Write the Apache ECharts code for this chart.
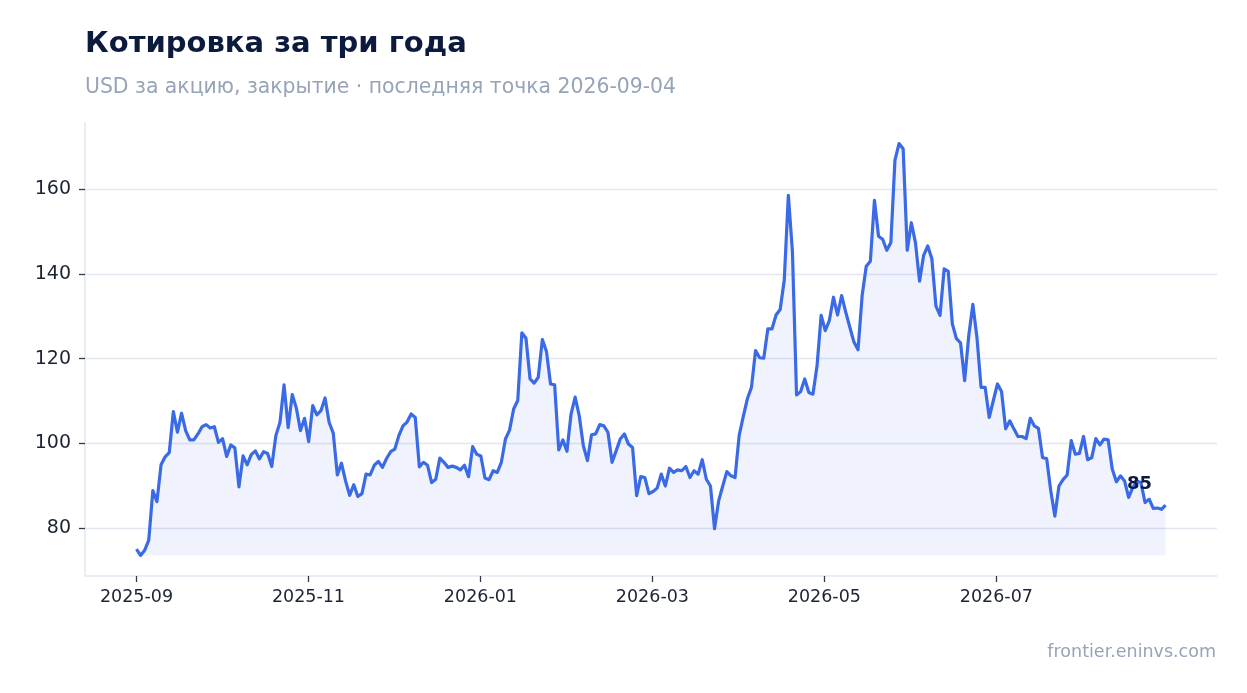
<!DOCTYPE html>
<html><head><meta charset="utf-8">
<script src="https://cdn.jsdelivr.net/npm/echarts@6/dist/echarts.min.js"></script>
<style>html,body{margin:0;padding:0;background:#fff}#c{width:1247px;height:693px}</style>
</head><body><div id="c"></div>
<script>
const TITLE = 'Котировка за три года';
const SUBTITLE = 'USD за акцию, закрытие · последняя точка 2026-09-04';
const SOURCE = 'frontier.eninvs.com';
const START_DATE = '2025-09-04';
const END_DATE = '2026-09-04';
const tickDates = ['2025-09-04', '2025-11-04', '2026-01-04', '2026-03-06', '2026-05-06', '2026-07-06'];
const yTicks = [80, 100, 120, 140, 160];

const closesPart1 = [75.0, 73.5, 74.7, 77.1, 88.8, 86.2, 94.9, 96.8, 97.8, 107.5, 102.6, 107.1, 103.0, 100.8, 100.8, 102.2, 103.9, 104.4, 103.6, 103.9, 100.2, 101.1, 96.9, 99.6, 98.9, 89.7, 97.0, 94.9, 97.3, 98.2, 96.3, 98.0, 97.6];
const closesPart2 = [94.5, 101.8, 104.9, 113.8, 103.7, 111.5, 108.3, 103.0, 105.9, 100.4, 108.9, 106.7, 107.7, 110.7, 104.9, 102.4, 92.5, 95.3, 91.1, 87.7, 90.2, 87.4, 88.1, 92.7, 92.5, 94.8, 95.7, 94.3, 96.4, 98.0, 98.6, 101.8, 104.1, 105.0, 106.9, 106.1];
const closesPart3 = [94.4, 95.5, 94.8, 90.7, 91.5, 96.5, 95.5, 94.3, 94.6, 94.3, 93.7, 94.8, 92.1, 99.2, 97.4, 97.0, 91.8, 91.4, 93.5, 93.1, 95.5, 101.0, 103.1, 108.1, 110.1, 126.1, 124.8, 115.2, 114.2, 115.6, 124.5, 121.7, 114.0, 113.8];
const closesPart4 = [98.4, 100.8, 98.1, 106.9, 110.9, 106.5, 99.4, 95.9, 102.0, 102.2, 104.4, 104.1, 102.6, 95.5, 98.2, 101.0, 102.2, 99.8, 99.0, 87.6, 92.1, 91.9, 88.1, 88.6, 89.4, 92.7, 89.9, 94.1, 93.1, 93.7, 93.5, 94.5, 91.9];
const closesPart5 = [93.5, 92.7, 96.1, 91.5, 89.9, 79.8, 86.4, 89.9, 93.3, 92.3, 91.9, 101.8, 106.3, 110.5, 113.2, 121.9, 120.2, 120.1, 127.0, 127.0, 130.3, 131.6, 138.5, 158.6, 145.2, 111.4, 112.2];
const closesPart6 = [115.2, 112.0, 111.6, 118.3, 130.2, 126.6, 129.0, 134.5, 130.3, 134.9, 131.0, 127.4, 123.9, 122.1, 134.9, 141.8, 143.0, 157.4, 148.9, 148.2, 145.6, 147.4, 166.9, 170.8, 169.6, 145.6, 152.1];
const closesPart7 = [147.4, 138.3, 144.4, 146.6, 143.6, 132.4, 130.2, 141.2, 140.6, 128.2, 124.7, 123.7, 114.8, 125.4, 132.8, 125.0, 113.2, 113.2, 106.1, 110.1, 114.0, 112.2, 103.4, 105.3, 103.4, 101.6];
const closesPart8 = [101.6, 101.1, 105.9, 104.1, 103.5, 96.6, 96.4, 88.8, 82.8, 89.9, 91.4, 92.5, 100.6, 97.4, 97.6, 101.6, 96.1, 96.6, 101.1, 99.6, 101.0, 100.8, 93.9, 90.9, 92.3, 91.1, 87.2, 89.5, 91.1, 90.7, 86.0, 86.8, 84.6, 84.7, 84.4, 85.4];

const closes = [].concat(closesPart1, closesPart2, closesPart3, closesPart4, closesPart5, closesPart6, closesPart7, closesPart8);

function utc(s) { const p = s.split('-').map(Number); return Date.UTC(p[0], p[1] - 1, p[2]); }
function fmtMonth(ts) { const d = new Date(ts); const m = d.getUTCMonth() + 1; return d.getUTCFullYear() + '-' + (m < 10 ? '0' + m : m); }

const t0 = utc(START_DATE), t1 = utc(END_DATE), tSpan = t1 - t0;
const seriesData = closes.map((v, i) => [t0 + tSpan * i / (closes.length - 1), v]);
const yMin = Math.min(...closes), yMax = Math.max(...closes), ySpan = yMax - yMin;
const last = seriesData[seriesData.length - 1];
const tickValues = tickDates.map(utc);

const FONT = 'DejaVu Sans';
const chart = echarts.init(document.getElementById('c'), null, { renderer: 'canvas' });
chart.setOption({
  backgroundColor: '#ffffff',
  animation: false,
  title: [
    { text: TITLE, left: 85, top: 30, padding: 0, textStyle: { fontFamily: FONT, fontSize: 29, fontWeight: 'bold', color: '#0c1a3d' } },
    { text: SUBTITLE, left: 85, top: 78, padding: 0, textStyle: { fontFamily: FONT, fontSize: 20.4, fontWeight: 'normal', color: '#97a3b7' } },
    { text: SOURCE, right: 31, top: 643, padding: 0, textStyle: { fontFamily: FONT, fontSize: 17.5, fontWeight: 'normal', color: '#97a3b7' } }
  ],
  grid: { left: 85, right: 30, top: 123, bottom: 117, containLabel: false },
  xAxis: {
    type: 'value',
    min: t0 - 0.05 * tSpan,
    max: t1 + 0.05 * tSpan,
    axisLine: { show: true, onZero: false, lineStyle: { color: '#e3e7ef', width: 1.5 } },
    axisTick: { show: true, length: 6, customValues: tickValues, lineStyle: { color: '#333a48', width: 1.3 } },
    axisLabel: { customValues: tickValues, formatter: v => fmtMonth(v), margin: 12, fontFamily: FONT, fontSize: 17.5, color: '#1c2333' },
    splitLine: { show: false }
  },
  yAxis: {
    type: 'value',
    min: yMin - 0.05 * ySpan,
    max: yMax + 0.05 * ySpan,
    axisLine: { show: true, lineStyle: { color: '#e3e7ef', width: 1.5 } },
    axisTick: { show: true, length: 6, customValues: yTicks, lineStyle: { color: '#333a48', width: 1.3 } },
    axisLabel: { customValues: yTicks, margin: 14, fontFamily: FONT, fontSize: 19, color: '#1c2333' },
    splitLine: { show: true, lineStyle: { color: '#e3e7f0', width: 1.3 } }
  },
  series: [{
    type: 'line',
    data: seriesData,
    showSymbol: false,
    symbol: 'none',
    lineStyle: { color: '#3a6ae6', width: 3.2, join: 'round' },
    areaStyle: { color: 'rgba(58,106,230,0.11)', origin: yMin },
    markPoint: {
      symbol: 'circle', symbolSize: 1,
      itemStyle: { color: 'rgba(0,0,0,0)' },
      data: [{ coord: last, value: last[1] }],
      label: { show: true, position: 'inside', offset: [-26, -21], formatter: p => String(Math.round(p.value)), fontFamily: FONT, fontSize: 18, fontWeight: 'bold', color: '#0c1a3d' }
    }
  }]
});
</script>
</body></html>
